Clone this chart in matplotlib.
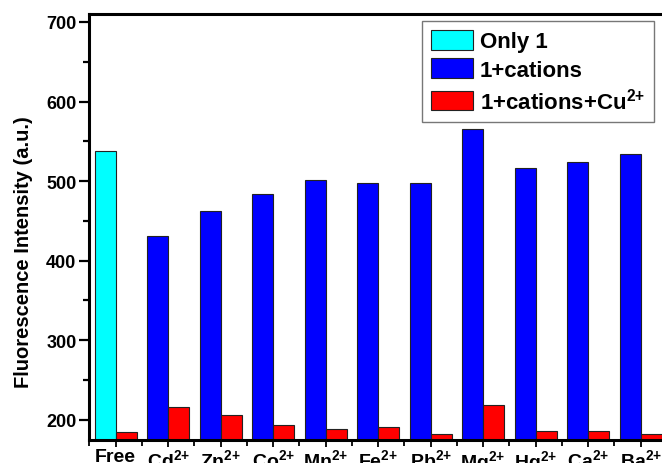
import matplotlib
matplotlib.use('Agg')
import matplotlib.pyplot as plt
from matplotlib.ticker import MultipleLocator
import numpy as np

plt.rcParams['font.family'] = 'Liberation Sans'
plt.rcParams['font.weight'] = 'bold'
plt.rcParams['axes.labelweight'] = 'bold'
plt.rcParams['mathtext.fontset'] = 'custom'
plt.rcParams['mathtext.bf'] = 'Liberation Sans:bold'
plt.rcParams['mathtext.rm'] = 'Liberation Sans:bold'
plt.rcParams['mathtext.default'] = 'bf'

labels = ['Free', 'Cd$^{2{+}}$', 'Zn$^{2{+}}$', 'Co$^{2{+}}$', 'Mn$^{2{+}}$', 'Fe$^{2{+}}$',
          'Pb$^{2{+}}$', 'Mg$^{2{+}}$', 'Hg$^{2{+}}$', 'Ca$^{2{+}}$', 'Ba$^{2{+}}$']
only1 = [538]
cations = [431, 462, 484, 502, 497, 497, 565, 517, 524, 534]
with_cu = [185, 216, 206, 194, 189, 191, 182, 219, 186, 186, 182]

fig = plt.figure(figsize=(6.62, 4.64), dpi=100)
ax = fig.add_axes([0.1344, 0.0502, 0.8737, 0.9175])

x = np.arange(len(labels))
w = 0.4
base = 175

ax.bar(x[:1] - w / 2, np.array(only1) - base, w, bottom=base, color='#00FFFF',
       edgecolor='#222222', linewidth=0.8, label='Only 1')
ax.bar(x[1:] - w / 2, np.array(cations) - base, w, bottom=base, color='#0000FF',
       edgecolor='#222222', linewidth=0.8, label='1+cations')
ax.bar(x + w / 2, np.array(with_cu) - base, w, bottom=base, color='#FF0000',
       edgecolor='#222222', linewidth=0.8, label='1+cations+Cu$^{2{+}}$')

ax.set_xlim(-0.509, 10.509)
ax.set_ylim(base, 710)
ax.set_xticks(x)
ax.set_xticklabels(labels, fontsize=14)
ax.xaxis.set_minor_locator(MultipleLocator(0.5))
ax.yaxis.set_major_locator(MultipleLocator(100))
ax.yaxis.set_minor_locator(MultipleLocator(50))
ax.tick_params(axis='y', which='major', direction='out', length=7, width=1.6,
               labelsize=13, pad=2)
ax.tick_params(axis='y', which='minor', direction='out', length=4, width=1.6)
ax.tick_params(axis='x', which='major', direction='out', length=5, width=1.3, pad=1)
ax.tick_params(axis='x', which='minor', direction='out', length=4, width=1.3)
ax.set_ylabel('Fluorescence Intensity (a.u.)', fontsize=14.5)
ax.yaxis.set_label_coords(-0.097, 0.442)

for s in ax.spines.values():
    s.set_linewidth(2.2)

ax.legend(loc='upper right', bbox_to_anchor=(0.9875, 0.953),
          bbox_transform=fig.transFigure, fontsize=16, frameon=True,
          fancybox=False, edgecolor='#555555', handlelength=1.9,
          handleheight=1.0, handletextpad=0.3, labelspacing=0.28,
          borderpad=0.4, borderaxespad=0)

fig.savefig('out.png', dpi=100)
